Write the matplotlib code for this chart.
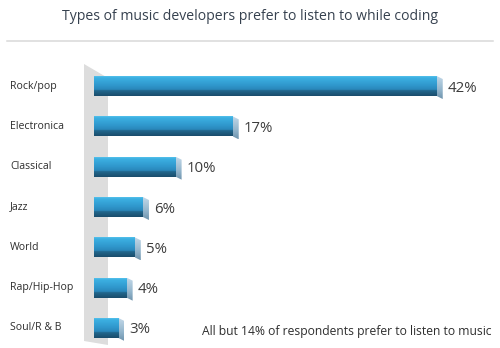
import numpy as np
import matplotlib
matplotlib.use("Agg")
import matplotlib.pyplot as plt
from matplotlib.patches import Polygon
from matplotlib.colors import LinearSegmentedColormap
from matplotlib.transforms import blended_transform_factory

categories = ["Rock/pop", "Electronica", "Classical", "Jazz", "World", "Rap/Hip-Hop", "Soul/R & B"]
values = [42, 17, 10, 6, 5, 4, 3]
title = "Types of music developers prefer to listen to while coding"
footnote = "All but 14% of respondents prefer to listen to music"

plt.rcParams['font.family'] = ['Open Sans', 'DejaVu Sans']

W, H = 500, 348
fig = plt.figure(figsize=(W / 100, H / 100), dpi=100)
fig.patch.set_facecolor("white")

ax_left, ax_right, ax_top = 94, 485.7, 60
ax = fig.add_axes([ax_left / W, 0, (ax_right - ax_left) / W, (H - ax_top) / H])
XMAX, YTOP, YBOT = 48, -0.645, 6.496
ax.set_xlim(0, XMAX)
ax.set_ylim(YBOT, YTOP)
ax.axis("off")

# px -> data conversions for depth effect
px_x = XMAX / (ax_right - ax_left)
px_y = (YBOT - YTOP) / (H - ax_top)

# background wall
wall = Polygon([(84 / W, 1 - 64 / H), (108 / W, 1 - 78 / H), (108 / W, 1 - 345 / H), (84 / W, 1 - 341 / H)],
               closed=True, facecolor="#dddddd", edgecolor="none",
               transform=fig.transFigure, clip_on=False, zorder=0)
ax.add_patch(wall)

front_cmap = LinearSegmentedColormap.from_list("front", [
    (0.0, "#55c0ea"), (0.08, "#3cb0e2"), (0.45, "#3098cd"), (0.68, "#2987ba"),
    (0.72, "#22688f"), (1.0, "#1a4d6c")])
side_cmap = LinearSegmentedColormap.from_list("side", [
    (0.0, "#c2d8e8"), (0.6, "#93b5cc"), (1.0, "#6f94ad")])
grad = np.linspace(0, 1, 64).reshape(-1, 1)

bar_h = 20 * px_y
dx, dy = 6 * px_x, 3 * px_y
y_pos = np.arange(len(categories))

bars = ax.barh(y_pos, values, height=bar_h, color="none", edgecolor="none", zorder=3)
for yi, v, b in zip(y_pos, values, bars):
    top, bot = yi - bar_h / 2, yi + bar_h / 2
    side = Polygon([(v, top), (v + dx, top + dy), (v + dx, bot + dy), (v, bot)],
                   closed=True, facecolor="none", edgecolor="none", zorder=2)
    ax.add_patch(side)
    im2 = ax.imshow(grad, cmap=side_cmap, aspect="auto", extent=[v, v + dx, bot + dy, top],
                    zorder=2, interpolation="bilinear")
    im2.set_clip_path(side)
    im = ax.imshow(grad, cmap=front_cmap, aspect="auto", extent=[0, v, bot, top],
                   zorder=3, interpolation="bilinear")
    im.set_clip_path(b)
    ax.text(v + dx + 5 * px_x, yi + 2 * px_y, f"{v}%", fontsize=10.8, color="#3c3c3c",
            ha="left", va="center")

ax.set_xlim(0, XMAX)
ax.set_ylim(YBOT, YTOP)

# category labels
lab_tr = blended_transform_factory(fig.transFigure, ax.transData)
for yi, c in zip(y_pos, categories):
    ax.text(10 / W, yi, c, transform=lab_tr, fontsize=7.6, color="#2e2e2e",
            ha="left", va="center", clip_on=False)

fig.text(250 / W, 1 - 17 / H, title, fontsize=10.05, color="#36414f", ha="center", va="center")
fig.add_artist(plt.Line2D([7 / W, 493 / W], [1 - 41 / H, 1 - 41 / H], color="#d9d9d9", lw=1.1,
                          transform=fig.transFigure))
fig.text(492 / W, 1 - 332 / H, footnote, fontsize=8.7, color="#2e2e2e", ha="right", va="center")

fig.savefig("out.png", dpi=100)
